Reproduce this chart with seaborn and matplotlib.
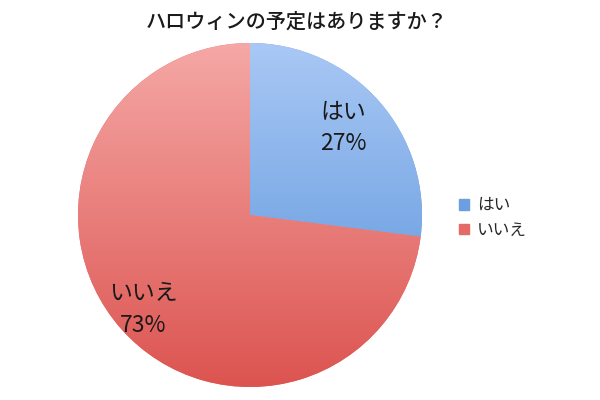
import numpy as np
import matplotlib
matplotlib.use('Agg')
import matplotlib.pyplot as plt
import seaborn as sns
from matplotlib.colors import LinearSegmentedColormap

sns.set_theme(style='white')
plt.rcParams['font.family'] = ['Noto Sans CJK JP', 'DejaVu Sans']

# data
labels = ['はい', 'いいえ']
values = [27, 73]
title = 'ハロウィンの予定はありますか？'
# gradient colours (top, bottom) for each slice
grad_colors = [('#a9c8f5', '#5590d9'), ('#f5a8a6', '#dc5450')]
legend_colors = ['#6d9fe0', '#e46a68']
label_pos = [(0.54, 0.51), (-0.62, -0.55)]

fig = plt.figure(figsize=(6, 4), dpi=100)
ax = fig.add_axes([78 / 600, 13 / 400, 344 / 600, 344 / 400])

wedges, _ = ax.pie(values, startangle=90, counterclock=False, radius=1,
                   colors=legend_colors, wedgeprops=dict(linewidth=0))
ax.set_aspect('equal')

grad = np.linspace(0, 1, 256).reshape(-1, 1)
for w, (top, bot) in zip(wedges, grad_colors):
    cmap = LinearSegmentedColormap.from_list('g', [top, bot])
    im = ax.imshow(grad, cmap=cmap, extent=[-1, 1, -1, 1], origin='upper',
                   aspect='auto', zorder=2)
    im.set_clip_path(w)
ax.set_xlim(-1, 1)
ax.set_ylim(-1, 1)

for (x, y), lab, v in zip(label_pos, labels, values):
    ax.text(x, y, f'{lab}\n{v}%', ha='center', va='center', fontsize=16.5,
            color='#1a1a1a', linespacing=1.5, zorder=3)

handles = [plt.Rectangle((0, 0), 1, 1, color=c) for c in legend_colors]
fig.legend(handles, labels, loc='center left', bbox_to_anchor=(0.74, 0.455),
           frameon=False, fontsize=12, handlelength=0.6, handleheight=0.6,
           handletextpad=0.5, labelspacing=0.45)

fig.text(0.495, 1 - 22 / 400, title, ha='center', va='center', fontsize=14.5,
         fontweight='medium', color='#1a1a1a')

fig.savefig('out.png', dpi=100, facecolor='white')
